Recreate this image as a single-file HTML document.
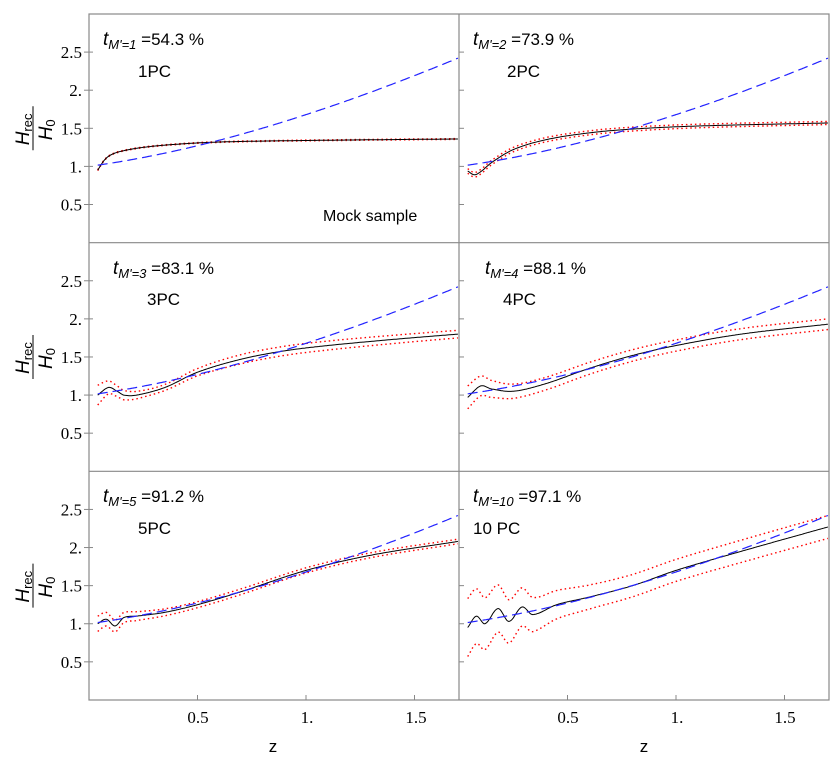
<!DOCTYPE html>
<html><head><meta charset="utf-8"><style>
body{margin:0;background:#fff}
svg{display:block}
.t{font-family:"Liberation Sans",sans-serif;font-size:17px}
.s{font-family:"Liberation Serif",serif;font-size:17px}
</style></head><body>
<svg id="g" width="830" height="769" xmlns="http://www.w3.org/2000/svg">
<g stroke="#888" stroke-width="1.2" fill="none">
<rect x="89" y="14" width="740" height="686"/>
<line x1="459" y1="14" x2="459" y2="700"/>
<line x1="89" y1="242.7" x2="829" y2="242.7"/>
<line x1="89" y1="471.3" x2="829" y2="471.3"/>
</g>
<g id="ticks" stroke="#888" stroke-width="1"></g>
<g id="curves"></g>
<g class="s" text-anchor="end" id="ylab"></g>
<g class="s" text-anchor="middle">
<text x="198" y="723">0.5</text><text x="307" y="723">1.</text><text x="416" y="723">1.5</text>
<text x="568" y="723">0.5</text><text x="677" y="723">1.</text><text x="785" y="723">1.5</text>
</g>
<g class="t" text-anchor="middle"><text x="273" y="752">z</text><text x="644" y="752">z</text></g>
<g class="t">
<text x="103" y="45"><tspan font-style="italic" font-size="19">t</tspan><tspan font-size="13" dy="4" font-style="italic">M'=1</tspan><tspan dy="-4"> =54.3  %</tspan></text>
<text x="138" y="77">1PC</text>
<text x="323" y="221" font-size="16">Mock sample</text>
<text x="473" y="45"><tspan font-style="italic" font-size="19">t</tspan><tspan font-size="13" dy="4" font-style="italic">M'=2</tspan><tspan dy="-4"> =73.9  %</tspan></text>
<text x="507" y="77">2PC</text>
<text x="113" y="274"><tspan font-style="italic" font-size="19">t</tspan><tspan font-size="13" dy="4" font-style="italic">M'=3</tspan><tspan dy="-4"> =83.1  %</tspan></text>
<text x="147" y="305">3PC</text>
<text x="485" y="274"><tspan font-style="italic" font-size="19">t</tspan><tspan font-size="13" dy="4" font-style="italic">M'=4</tspan><tspan dy="-4"> =88.1  %</tspan></text>
<text x="503" y="305">4PC</text>
<text x="103" y="502"><tspan font-style="italic" font-size="19">t</tspan><tspan font-size="13" dy="4" font-style="italic">M'=5</tspan><tspan dy="-4"> =91.2  %</tspan></text>
<text x="138" y="534">5PC</text>
<text x="473" y="502"><tspan font-style="italic" font-size="19">t</tspan><tspan font-size="13" dy="4" font-style="italic">M'=10</tspan><tspan dy="-4"> =97.1  %</tspan></text>
<text x="473" y="534">10 PC</text>
</g>
<g id="axl" class="t"></g>
</svg>
<script>
const NS="http://www.w3.org/2000/svg";
function el(p,t,a,txt){const e=document.createElementNS(NS,t);for(const k in a)e.setAttribute(k,a[k]);if(txt)e.textContent=txt;document.getElementById(p).appendChild(e);return e;}
function X(c,z){return 89+c*370+z*217}
function Y(r,v){return 14+r*228.67+(3-v)*76.2}
function interp(pts,z){for(let i=0;i<pts.length-1;i++){if(z<=pts[i+1][0]){const p0=pts[Math.max(0,i-1)],p1=pts[i],p2=pts[i+1],p3=pts[Math.min(pts.length-1,i+2)];const t=(z-p1[0])/(p2[0]-p1[0]);
const m1=(p2[1]-p0[1])/(p2[0]-p0[0])*(p2[0]-p1[0]),m2=(p3[1]-p1[1])/(p3[0]-p1[0])*(p2[0]-p1[0]);
const t2=t*t,t3=t2*t;return (2*t3-3*t2+1)*p1[1]+(t3-2*t2+t)*m1+(-2*t3+3*t2)*p2[1]+(t3-t2)*m2;}}return pts[pts.length-1][1];}
function path(c,r,f,attrs){let d="";for(let z=0.04;z<=1.7001;z+=0.005){d+=(d?"L":"M")+X(c,z).toFixed(1)+","+Y(r,f(z)).toFixed(1);}attrs.d=d;attrs.fill="none";el("curves","path",attrs);}
const P=[
{c:0,r:0,b:[[.04,.95],[.07,1.08],[.1,1.15],[.15,1.2],[.25,1.25],[.4,1.29],[.6,1.32],[1,1.34],[1.7,1.36]],e:[[.04,.005],[1.7,.005]]},
{c:1,r:0,b:[[.04,.94],[.07,.89],[.1,.93],[.15,1.05],[.25,1.22],[.4,1.35],[.6,1.44],[.8,1.49],[1.1,1.53],[1.7,1.57]],e:[[.04,.03],[1.7,.02]]},
{c:0,r:1,b:[[.04,1.0],[.09,1.1],[.13,1.05],[.16,1.0],[.22,1.0],[.35,1.1],[.5,1.3],[.7,1.47],[.9,1.58],[1.1,1.65],[1.4,1.73],[1.7,1.8]],e:[[.04,.13],[.1,.08],[.3,.04],[.7,.06],[1.7,.05]]},
{c:1,r:1,b:[[.04,.97],[.1,1.12],[.15,1.08],[.25,1.05],[.4,1.15],[.6,1.35],[.8,1.52],[1.0,1.65],[1.3,1.8],[1.7,1.93]],e:[[.04,.15],[.2,.1],[.5,.08],[1.7,.07]]},
{c:0,r:2,b:[[.04,1.0],[.08,1.06],[.12,.97],[.16,1.08],[.22,1.1],[.35,1.15],[.5,1.25],[.7,1.42],[1.0,1.7],[1.3,1.9],[1.7,2.08]],e:[[.04,.1],[.2,.06],[.5,.04],[1.7,.03]]},
{c:1,r:2,b:[[.04,.95],[.08,1.1],[.12,1.0],[.18,1.2],[.23,1.03],[.29,1.22],[.34,1.12],[.45,1.25],[.6,1.35],[.8,1.5],[1.0,1.7],[1.3,1.95],[1.7,2.27]],e:[[.04,.38],[.2,.3],[.4,.2],[.7,.15],[1.7,.15]]}
];
const lcdm=z=>Math.sqrt(0.26*Math.pow(1+z,3)+0.74);
for(const p of P){
 const f=z=>interp(p.b,z), e=z=>interp(p.e,z);
 path(p.c,p.r,z=>f(z)+e(z),{stroke:"#f00","stroke-width":1.4,"stroke-dasharray":"1.5 3"});
 path(p.c,p.r,z=>f(z)-e(z),{stroke:"#f00","stroke-width":1.4,"stroke-dasharray":"1.5 3"});
 path(p.c,p.r,f,{stroke:"#000","stroke-width":1});
 path(p.c,p.r,lcdm,{stroke:"#22f","stroke-width":1.2,"stroke-dasharray":"10 5"});
}
for(let r=0;r<3;r++){
 for(const v of [0.5,1,1.5,2,2.5]){const y=Y(r,v);
  el("ticks","line",{x1:84,x2:93,y1:y,y2:y});el("ticks","line",{x1:459,x2:464,y1:y,y2:y});
  el("ylab","text",{x:82,y:y+6},v==1?"1.":v==2?"2.":String(v));}
 const cy=Y(r,1.5);
 const g=el("axl","g",{transform:`translate(33,${cy}) rotate(-90)`,"font-size":"19"});
 const t1=document.createElementNS(NS,"text");t1.setAttribute("x",-17);t1.setAttribute("y",-4);t1.innerHTML='<tspan font-style="italic">H</tspan><tspan font-size="13" dy="3">rec</tspan>';g.appendChild(t1);
 const ln=document.createElementNS(NS,"line");ln.setAttribute("x1",-22);ln.setAttribute("x2",22);ln.setAttribute("y1",0);ln.setAttribute("y2",0);ln.setAttribute("stroke","#000");g.appendChild(ln);
 const t2=document.createElementNS(NS,"text");t2.setAttribute("x",-12);t2.setAttribute("y",19);t2.innerHTML='<tspan font-style="italic">H</tspan><tspan font-size="13" dy="3">0</tspan>';g.appendChild(t2);
}
for(const c of [0,1])for(const z of [0.5,1,1.5]){const x=X(c,z);el("ticks","line",{x1:x,x2:x,y1:695,y2:700});}
</script>
</body></html>
